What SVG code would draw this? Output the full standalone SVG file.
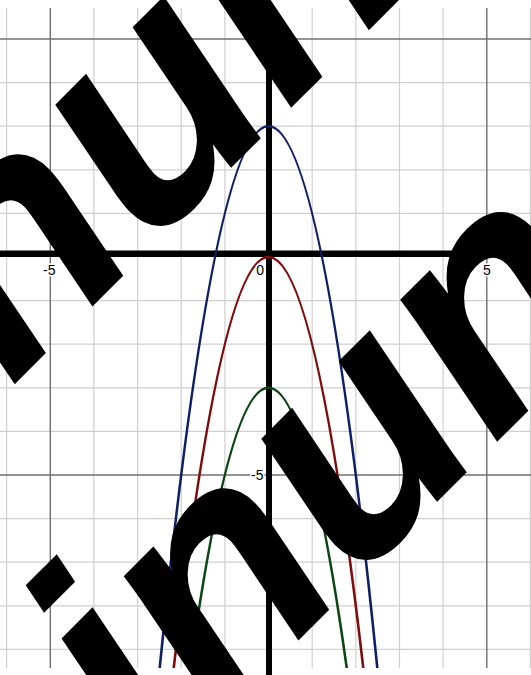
<svg xmlns="http://www.w3.org/2000/svg" width="531" height="675" viewBox="0 0 531 675">
<defs>
<style>
.minor{stroke:#cfcfcf;stroke-width:1.2}
.major{stroke:#6f6f6f;stroke-width:1.4}
.curve{fill:none;stroke-width:2.6}
.lbl{font-family:"Liberation Sans",Arial,sans-serif;font-size:14px;fill:#000;stroke:#fff;stroke-width:3;paint-order:stroke;stroke-linejoin:round}
.big{font-family:"Liberation Sans",Arial,sans-serif;font-size:320px;font-weight:bold;font-style:italic;fill:#000}
</style>
<clipPath id="plot"><rect x="0" y="8" width="531" height="660"/></clipPath>
</defs>
<rect width="531" height="675" fill="#fff"/>
<g id="grid">
<g class="minor">
<line x1="6.6" y1="8" x2="6.6" y2="668"/>
<line x1="93.9" y1="8" x2="93.9" y2="668"/>
<line x1="137.6" y1="8" x2="137.6" y2="668"/>
<line x1="181.2" y1="8" x2="181.2" y2="668"/>
<line x1="224.9" y1="8" x2="224.9" y2="668"/>
<line x1="312.2" y1="8" x2="312.2" y2="668"/>
<line x1="355.8" y1="8" x2="355.8" y2="668"/>
<line x1="399.5" y1="8" x2="399.5" y2="668"/>
<line x1="443.1" y1="8" x2="443.1" y2="668"/>
<line x1="530.4" y1="8" x2="530.4" y2="668"/>
<line x1="0" y1="82.6" x2="531" y2="82.6"/>
<line x1="0" y1="126.2" x2="531" y2="126.2"/>
<line x1="0" y1="169.8" x2="531" y2="169.8"/>
<line x1="0" y1="213.4" x2="531" y2="213.4"/>
<line x1="0" y1="300.6" x2="531" y2="300.6"/>
<line x1="0" y1="344.2" x2="531" y2="344.2"/>
<line x1="0" y1="387.8" x2="531" y2="387.8"/>
<line x1="0" y1="431.4" x2="531" y2="431.4"/>
<line x1="0" y1="518.6" x2="531" y2="518.6"/>
<line x1="0" y1="562.2" x2="531" y2="562.2"/>
<line x1="0" y1="605.8" x2="531" y2="605.8"/>
<line x1="0" y1="649.4" x2="531" y2="649.4"/>
</g>
<g class="major">
<line x1="50.3" y1="8" x2="50.3" y2="668"/>
<line x1="486.8" y1="8" x2="486.8" y2="668"/>
<line x1="0" y1="39" x2="531" y2="39"/>
<line x1="0" y1="475" x2="531" y2="475"/>
</g>
</g>
<g id="axes">
<rect x="0" y="250.5" width="531" height="6.5" fill="#000"/>
<rect x="266" y="8" width="6" height="667" fill="#000"/>
</g>
<g id="curves" clip-path="url(#plot)">
<path id="blue" class="curve" stroke="#0f1f66" d="M155,715.7 Q268.5,-463.3 382,715.7"/>
<path id="red" class="curve" stroke="#7e0c0c" d="M168.1,718.3 Q268.5,-204.3 368.9,718.3"/>
<path id="green" class="curve" stroke="#0b4512" d="M181.2,736.6 Q268.5,39 355.8,736.6"/>
</g>
<g id="labels">
<text class="lbl" x="55.5" y="275" text-anchor="end">-5</text>
<text class="lbl" x="264" y="275" text-anchor="end">0</text>
<text class="lbl" x="487" y="275" text-anchor="middle">5</text>
<text class="lbl" x="263.5" y="480" text-anchor="end">-5</text>
</g>
<g id="watermark">
<text class="big" x="-52" y="451" transform="rotate(-45 -52 451)">inun</text>
<text class="big" x="154" y="785" transform="rotate(-45 154 785)">inun</text>
</g>
</svg>
